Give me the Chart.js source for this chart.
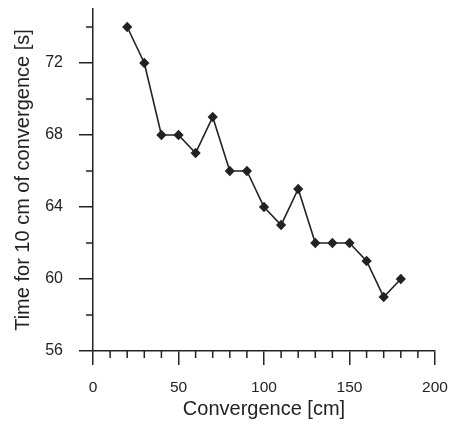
<!DOCTYPE html>
<html><head><meta charset="utf-8">
<script src="https://cdn.jsdelivr.net/npm/chart.js"></script>
<style>html,body{margin:0;padding:0;background:#fff}#wrap{width:451px;height:428px}</style>
</head><body><div id="wrap"><canvas id="c" width="451" height="428"></canvas></div>
<script>
const convergence = [20,30,40,50,60,70,80,90,100,110,120,130,140,150,160,170,180];
const timeSec = [74,72,68,68,67,69,66,66,64,63,65,62,62,62,61,59,60];
const xMajorTicks = [0,50,100,150,200];
const xMinorTicks = [10,20,30,40,60,70,80,90,110,120,130,140,160,170,180,190];
const yMajorTicks = [56,60,64,68,72];
const yMinorTicks = [58,62,66,70,74];

const ink = '#222';
const minorTicks = {
  id:'minorTicks',
  afterDraw(chart){
    const ctx = chart.ctx, xs = chart.scales.x, ys = chart.scales.y;
    ctx.save();
    ctx.strokeStyle = ink; ctx.lineWidth = 1.5;
    ctx.beginPath();
    xMinorTicks.forEach(v=>{const p=xs.getPixelForValue(v); ctx.moveTo(p, ys.bottom); ctx.lineTo(p, ys.bottom+7);});
    yMinorTicks.forEach(v=>{const p=ys.getPixelForValue(v); ctx.moveTo(xs.left, p); ctx.lineTo(xs.left-7, p);});
    ctx.stroke();
    ctx.restore();
  }
};

new Chart(document.getElementById('c'), {
  type:'line',
  data:{datasets:[{
    data: convergence.map((x,i)=>({x, y: timeSec[i]})),
    borderColor: ink, borderWidth: 1.6, backgroundColor: ink,
    pointStyle:'rectRot', pointRadius:4, pointHoverRadius:4, tension:0, fill:false
  }]},
  options:{
    responsive:false, animation:false, events:[],
    layout:{padding:{top:9,right:16,left:0,bottom:0}},
    plugins:{legend:{display:false}, tooltip:{enabled:false}},
    scales:{
      x:{type:'linear', min:0, max:200,
        afterBuildTicks(s){s.ticks = xMajorTicks.map(v=>({value:v}));},
        afterFit(s){s.height = 77; s.paddingLeft = 0; s.paddingRight = 0;},
        border:{display:true, color:ink, width:1.5},
        grid:{display:true, drawOnChartArea:false, drawTicks:true, tickLength:14, color:ink, lineWidth:1.5},
        ticks:{color:ink, padding:13, maxRotation:0, font:{family:'Liberation Sans, Arial', size:15.5}},
        title:{display:true, text:'Convergence [cm]', color:ink, font:{family:'Liberation Sans, Arial', size:20}, padding:{top:0,bottom:7}}
      },
      y:{type:'linear', min:56, max:75,
        afterBuildTicks(s){s.ticks = yMajorTicks.map(v=>({value:v}));},
        afterFit(s){s.width = 93; s.paddingTop = 0; s.paddingBottom = 0;},
        border:{display:true, color:ink, width:1.5},
        grid:{display:true, drawOnChartArea:false, drawTicks:true, tickLength:14, color:ink, lineWidth:1.5},
        ticks:{color:ink, padding:16, font:{family:'Liberation Sans, Arial', size:16}},
        title:{display:true, text:'Time for 10 cm of convergence [s]', color:ink, font:{family:'Liberation Sans, Arial', size:20}, padding:{top:11,bottom:0}}
      }
    }
  },
  plugins:[minorTicks]
});
</script></body></html>
